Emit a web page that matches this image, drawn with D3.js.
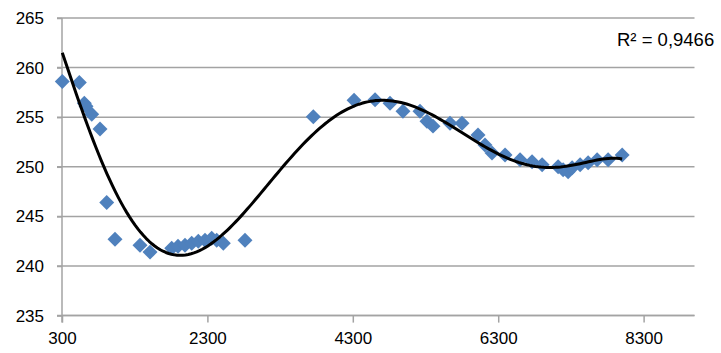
<!DOCTYPE html>
<html>
<head>
<meta charset="utf-8">
<script src="https://cdn.jsdelivr.net/npm/d3@7"></script>
<style>
    body { margin: 0; background: #fff; }
    svg { display: block; font-family: "Liberation Sans", Arial, sans-serif; }
</style>
</head>
<body>
<div id="chart"></div>
<script>
// values
const xValues = [304, 538, 607, 630, 709, 823, 915, 1029, 1373, 1511,
    1809, 1896, 1992, 2084, 2175, 2267, 2359, 2428, 2519, 2817,
    3757, 4317, 4606, 4812, 4990, 5224, 5320, 5403, 5637, 5802,
    6022, 6118, 6215, 6394, 6601, 6766, 6904, 7124, 7193, 7262,
    7317, 7427, 7537, 7661, 7812, 8005];
const yValues = [258.6, 258.5, 256.4, 256.1, 255.3, 253.8, 246.4, 242.7, 242.1, 241.4,
    241.8, 242.0, 242.1, 242.3, 242.5, 242.6, 242.8, 242.6, 242.3, 242.6,
    255.05, 256.7, 256.75, 256.4, 255.6, 255.6, 254.6, 254.1, 254.4, 254.4,
    253.2, 252.2, 251.4, 251.2, 250.7, 250.5, 250.2, 250.0, 249.7, 249.5,
    249.9, 250.2, 250.4, 250.7, 250.7, 251.2];

const xTicks = [300, 2300, 4300, 6300, 8300];
const yTicks = [235, 240, 245, 250, 255, 260, 265];
const r2Label = "R\u00B2 = 0,9466";

const width = 721, height = 353;

const x = d3.scaleLinear().domain([300, 9000]).range([62, 694.5]);
const y = d3.scaleLinear().domain([235, 265]).range([315.6, 18]);

const svg = d3.select("#chart").append("svg")
    .attr("width", width)
    .attr("height", height);

// gridlines
svg.append("g")
    .selectAll("line")
    .data(yTicks)
    .join("line")
    .attr("x1", 57)
    .attr("x2", x.range()[1])
    .attr("y1", d => y(d))
    .attr("y2", d => y(d))
    .attr("stroke", "#a3a3a3")
    .attr("stroke-width", 1.5);

// x axis
const xAxis = svg.append("g")
    .attr("transform", `translate(0,${y(235)})`)
    .call(d3.axisBottom(x).tickValues(xTicks).tickFormat(d3.format("d")).tickSize(7).tickPadding(9));

// y axis
const yAxis = svg.append("g")
    .attr("transform", `translate(${x(300)},0)`)
    .call(d3.axisLeft(y).tickValues(yTicks).tickSize(5).tickPadding(13));

[xAxis, yAxis].forEach(g => {
    g.select(".domain").remove();
    g.selectAll("line").attr("stroke", "#a3a3a3").attr("stroke-width", 1.5);
    g.selectAll("text").attr("fill", "#000").style("font-size", "17px");
});

svg.append("line")
    .attr("x1", x(300)).attr("x2", x(300))
    .attr("y1", y(265)).attr("y2", y(235) + 7)
    .attr("stroke", "#a3a3a3").attr("stroke-width", 1.5);
svg.append("line")
    .attr("x1", x(300)).attr("x2", x.range()[1])
    .attr("y1", y(235)).attr("y2", y(235))
    .attr("stroke", "#a3a3a3").attr("stroke-width", 1.5);

// markers
const diamond = d3.symbol().type(d3.symbolSquare).size(112);
svg.append("g")
    .selectAll("path")
    .data(xValues.map((d, i) => [d, yValues[i]]))
    .join("path")
    .attr("d", diamond)
    .attr("transform", d => `translate(${x(d[0])},${y(d[1])}) rotate(45)`)
    .attr("fill", "#4f81bd");

// polynomial trendline, order 6
function polyFit(xs, ys, order) {
    const mid = (d3.min(xs) + d3.max(xs)) / 2;
    const half = (d3.max(xs) - d3.min(xs)) / 2;
    const n = order + 1;
    const A = [];
    const b = [];
    for (let i = 0; i < n; i++) {
        A.push(new Array(n).fill(0));
        b.push(0);
    }
    xs.forEach((xv, k) => {
        const t = (xv - mid) / half;
        for (let i = 0; i < n; i++) {
            b[i] += ys[k] * Math.pow(t, i);
            for (let j = 0; j < n; j++) {
                A[i][j] += Math.pow(t, i + j);
            }
        }
    });
    // gaussian elimination
    for (let c = 0; c < n; c++) {
        let p = c;
        for (let r = c + 1; r < n; r++) {
            if (Math.abs(A[r][c]) > Math.abs(A[p][c])) p = r;
        }
        [A[c], A[p]] = [A[p], A[c]];
        [b[c], b[p]] = [b[p], b[c]];
        for (let r = c + 1; r < n; r++) {
            const f = A[r][c] / A[c][c];
            for (let j = c; j < n; j++) A[r][j] -= f * A[c][j];
            b[r] -= f * b[c];
        }
    }
    const coef = new Array(n).fill(0);
    for (let r = n - 1; r >= 0; r--) {
        let s = b[r];
        for (let j = r + 1; j < n; j++) s -= A[r][j] * coef[j];
        coef[r] = s / A[r][r];
    }
    return xv => {
        const t = (xv - mid) / half;
        return coef.reduce((acc, c, i) => acc + c * Math.pow(t, i), 0);
    };
}

const trend = polyFit(xValues, yValues, 6);
const trendPts = d3.range(0, 201).map(i => {
    const xv = d3.min(xValues) + (d3.max(xValues) - d3.min(xValues)) * i / 200;
    return [xv, trend(xv)];
});

svg.append("path")
    .datum(trendPts)
    .attr("fill", "none")
    .attr("stroke", "#000")
    .attr("stroke-width", 3)
    .attr("stroke-linejoin", "round")
    .attr("d", d3.line().x(d => x(d[0])).y(d => y(d[1])));

svg.append("text")
    .attr("x", 617)
    .attr("y", 46)
    .style("font-size", "18.5px")
    .attr("fill", "#000")
    .text(r2Label);
</script>
</body>
</html>
